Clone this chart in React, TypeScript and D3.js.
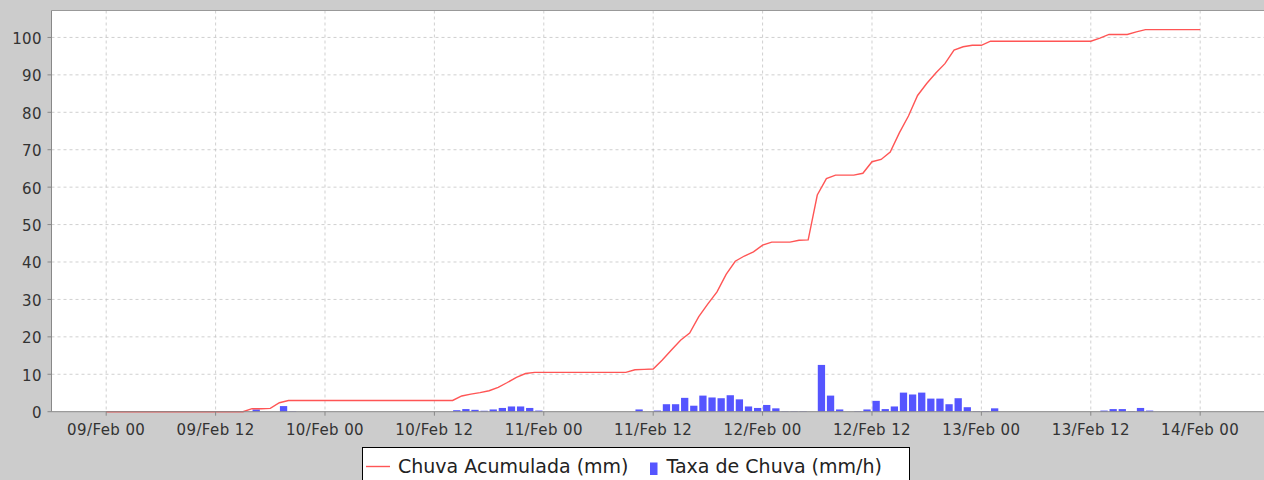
import { useEffect, useRef } from 'react';
import * as d3 from 'd3';

// hourly series, starting 09/Feb 00h
const startTime = new Date(Date.UTC(2011, 1, 9, 0));

// Taxa de Chuva (mm/h)
const rainRate = [
  0, 0, 0, 0, 0, 0, 0, 0, 0, 0, 0, 0,
  0, 0, 0, 0, 0.6, 0, 0, 1.5, 0.1, 0, 0, 0,
  0, 0, 0, 0, 0, 0, 0, 0, 0, 0, 0, 0,
  0, 0, 0.4, 0.7, 0.5, 0.25, 0.6, 1.0, 1.4, 1.4, 1.0, 0.3,
  0, 0, 0, 0, 0, 0, 0, 0, 0, 0, 0.6, 0,
  0.3, 2.0, 2.0, 3.7, 1.6, 4.3, 3.8, 3.6, 4.4, 3.3, 1.4, 1.0,
  1.8, 0.9, 0.1, 0.1, 0.1, 0, 12.5, 4.3, 0.6, 0, 0.1, 0.6,
  2.9, 0.7, 1.4, 5.1, 4.6, 5.1, 3.5, 3.5, 2.0, 3.6, 1.2, 0.1,
  0.1, 0.9, 0, 0, 0, 0, 0, 0, 0, 0, 0, 0,
  0, 0.3, 0.7, 0.7, 0.1, 1.0, 0.3, 0, 0, 0, 0, 0,
  0
];

// Chuva Acumulada (mm)
const rainAccum = [
  0, 0, 0, 0, 0, 0, 0, 0, 0, 0, 0, 0,
  0, 0, 0, 0, 0.8, 0.8, 0.9, 2.4, 3.0, 3.0, 3.0, 3.0,
  3.0, 3.0, 3.0, 3.0, 3.0, 3.0, 3.0, 3.0, 3.0, 3.0, 3.0, 3.0,
  3.0, 3.0, 3.0, 4.2, 4.7, 5.1, 5.6, 6.5, 7.8, 9.2, 10.2, 10.5,
  10.5, 10.5, 10.5, 10.5, 10.5, 10.5, 10.5, 10.5, 10.5, 10.5, 11.2, 11.3,
  11.4, 13.8, 16.5, 19.1, 21.0, 25.4, 28.8, 32.0, 36.7, 40.2, 41.6, 42.7,
  44.5, 45.3, 45.3, 45.3, 45.8, 45.9, 57.9, 62.3, 63.2, 63.2, 63.2, 63.7,
  66.8, 67.4, 69.4, 74.5, 79.0, 84.5, 87.7, 90.5, 93.0, 96.6, 97.5, 97.9,
  97.9, 99.0, 99.0, 99.0, 99.0, 99.0, 99.0, 99.0, 99.0, 99.0, 99.0, 99.0,
  99.0, 99.8, 100.8, 100.8, 100.8, 101.5, 102.1, 102.1, 102.1, 102.1, 102.1, 102.1,
  102.1
];

const yTicks = [0, 10, 20, 30, 40, 50, 60, 70, 80, 90, 100];
const legendLabels = ['Chuva Acumulada (mm)', 'Taxa de Chuva (mm/h)'];

export default function App() {
  const svgRef = useRef<SVGSVGElement>(null);

  useEffect(() => {
    if (!svgRef.current) return;
    const width = 1264;
    const height = 480;
    const plot = { left: 51.5, top: 10.5, right: 1264, bottom: 411.7 };
    const font = '"DejaVu Sans", sans-serif';

    const svg = d3.select(svgRef.current);
    svg.selectAll('*').remove();
    svg.attr('width', width).attr('height', height);

    svg.append('rect')
      .attr('width', width)
      .attr('height', height)
      .attr('fill', '#cccccc');

    const times = rainAccum.map((_, i) => d3.utcHour.offset(startTime, i));

    const x = d3.scaleUtc()
      .domain([d3.utcHour.offset(startTime, -6), d3.utcHour.offset(startTime, 127)])
      .range([plot.left, plot.right]);

    const y = d3.scaleLinear()
      .domain([0, 107.2])
      .range([plot.bottom, plot.top]);

    svg.append('rect')
      .attr('x', plot.left)
      .attr('y', plot.top)
      .attr('width', plot.right - plot.left)
      .attr('height', plot.bottom - plot.top)
      .attr('fill', 'white');

    const xTicks = d3.utcHour.every(12)!.range(startTime, d3.utcHour.offset(startTime, 121));

    // grid
    svg.append('g')
      .selectAll('line')
      .data(xTicks)
      .join('line')
      .attr('x1', d => x(d))
      .attr('x2', d => x(d))
      .attr('y1', plot.top)
      .attr('y2', plot.bottom)
      .attr('stroke', '#c4c4c4')
      .attr('stroke-width', 0.8)
      .attr('stroke-dasharray', '3,3');

    svg.append('g')
      .selectAll('line')
      .data(yTicks.filter(d => d > 0))
      .join('line')
      .attr('x1', plot.left)
      .attr('x2', plot.right)
      .attr('y1', d => y(d))
      .attr('y2', d => y(d))
      .attr('stroke', '#c4c4c4')
      .attr('stroke-width', 0.8)
      .attr('stroke-dasharray', '3,3');

    // bars
    const hourW = x(times[1]) - x(times[0]);
    svg.append('g')
      .selectAll('rect')
      .data(rainRate.map((v, i) => ({ t: times[i], v })).filter(d => d.v > 0))
      .join('rect')
      .attr('x', d => x(d.t) + 0.5)
      .attr('y', d => y(d.v))
      .attr('width', hourW * 0.8)
      .attr('height', d => plot.bottom - y(d.v))
      .attr('fill', '#5555ff');

    // line
    const line = d3.line<number>()
      .x((_, i) => x(times[i]))
      .y(d => y(d));

    svg.append('path')
      .datum(rainAccum)
      .attr('d', line)
      .attr('fill', 'none')
      .attr('stroke', '#ff5555')
      .attr('stroke-width', 1.4);

    // plot outline / axes
    svg.append('line')
      .attr('x1', plot.left).attr('x2', plot.right)
      .attr('y1', plot.top).attr('y2', plot.top)
      .attr('stroke', '#999999');

    svg.append('line')
      .attr('x1', plot.left).attr('x2', plot.left)
      .attr('y1', plot.top).attr('y2', plot.bottom)
      .attr('stroke', '#888888');

    svg.append('line')
      .attr('x1', plot.left).attr('x2', plot.right)
      .attr('y1', plot.bottom).attr('y2', plot.bottom)
      .attr('stroke', '#888888');

    const yAxis = svg.append('g');
    yTicks.forEach(t => {
      yAxis.append('line')
        .attr('x1', plot.left - 4).attr('x2', plot.left)
        .attr('y1', y(t)).attr('y2', y(t))
        .attr('stroke', '#888888');
      yAxis.append('text')
        .attr('x', 42)
        .attr('y', y(t) + 6.5)
        .attr('text-anchor', 'end')
        .style('font-family', font)
        .style('font-size', '15px')
        .style('letter-spacing', '0.4px')
        .attr('fill', '#333333')
        .text(t);
    });

    const fmt = d3.utcFormat('%d/%b %H');
    const xAxis = svg.append('g');
    xTicks.forEach(t => {
      xAxis.append('line')
        .attr('x1', x(t)).attr('x2', x(t))
        .attr('y1', plot.bottom).attr('y2', plot.bottom + 4)
        .attr('stroke', '#888888');
      xAxis.append('text')
        .attr('x', x(t))
        .attr('y', 435)
        .attr('text-anchor', 'middle')
        .style('font-family', font)
        .style('font-size', '15px')
        .style('letter-spacing', '0.4px')
        .attr('fill', '#333333')
        .text(fmt(t));
    });

    // legend
    const legend = svg.append('g');
    legend.append('rect')
      .attr('x', 362.5)
      .attr('y', 447.5)
      .attr('width', 547)
      .attr('height', 50)
      .attr('fill', 'white')
      .attr('stroke', 'black');

    legend.append('line')
      .attr('x1', 366).attr('x2', 390)
      .attr('y1', 466.5).attr('y2', 466.5)
      .attr('stroke', '#ff5555')
      .attr('stroke-width', 1.4);

    legend.append('text')
      .attr('x', 398)
      .attr('y', 472.5)
      .style('font-family', font)
      .style('font-size', '19px')
      .attr('fill', '#222222')
      .text(legendLabels[0]);

    legend.append('rect')
      .attr('x', 650)
      .attr('y', 462.5)
      .attr('width', 7.5)
      .attr('height', 12.5)
      .attr('fill', '#5555ff');

    legend.append('text')
      .attr('x', 666.5)
      .attr('y', 472.5)
      .style('font-family', font)
      .style('font-size', '19px')
      .attr('fill', '#222222')
      .text(legendLabels[1]);
  }, []);

  return (
    <div style={{ position: 'absolute', left: 0, top: 0 }}>
      <svg ref={svgRef} style={{ display: 'block' }}></svg>
    </div>
  );
}
